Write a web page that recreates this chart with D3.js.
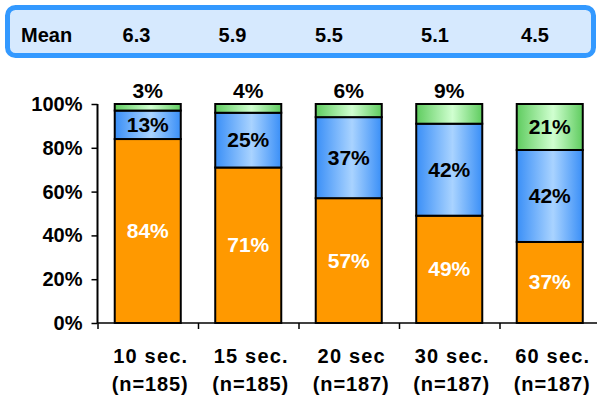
<!DOCTYPE html>
<html>
<head>
<meta charset="utf-8">
<script src="https://cdn.jsdelivr.net/npm/d3@7"></script>
<style>
  html, body { margin: 0; padding: 0; background: #ffffff; }
  svg { display: block; }
  text { font-family: "Liberation Sans", Arial, sans-serif; font-weight: bold; }
</style>
</head>
<body>
<svg id="chart" width="597" height="398"></svg>
<script>
const categories = ["10 sec.", "15 sec.", "20 sec", "30 sec.", "60 sec."];
const sampleSizes = ["(n=185)", "(n=185)", "(n=187)", "(n=187)", "(n=187)"];
const means = ["6.3", "5.9", "5.5", "5.1", "4.5"];
const bottomSeries = [84, 71, 57, 49, 37];
const middleSeries = [13, 25, 37, 42, 42];
const topSeries = [3, 4, 6, 9, 21];
const yTicks = [0, 20, 40, 60, 80, 100];

const svg = d3.select("#chart");
const defs = svg.append("defs");

function hGrad(id, edge, center) {
  const g = defs.append("linearGradient").attr("id", id)
    .attr("x1", "0%").attr("x2", "100%").attr("y1", "0%").attr("y2", "0%");
  g.append("stop").attr("offset", "0%").attr("stop-color", edge);
  g.append("stop").attr("offset", "55%").attr("stop-color", center);
  g.append("stop").attr("offset", "100%").attr("stop-color", edge);
}
hGrad("blueGrad", "#3a8ff7", "#a9d3ff");
hGrad("greenGrad", "#5fcc5f", "#d0ffd0");

// Mean box
svg.append("rect")
  .attr("x", 7.5).attr("y", 7.5).attr("width", 586).attr("height", 48)
  .attr("rx", 8).attr("ry", 8)
  .attr("fill", "#d6e9fe").attr("stroke", "#3399ff").attr("stroke-width", 5);
svg.append("text").attr("x", 21).attr("y", 42)
  .attr("font-size", 20).attr("fill", "#000").text("Mean");
const meanX = [136.5, 232.5, 329, 435, 535];
svg.selectAll("text.mean").data(means).join("text")
  .attr("class", "mean")
  .attr("x", (d, i) => meanX[i]).attr("y", 42)
  .attr("text-anchor", "middle").attr("font-size", 20).attr("fill", "#000")
  .text(d => d);

// Scales
const x = d3.scaleBand().domain(categories).range([97.5, 600]).paddingInner(0.343).paddingOuter(0.1715);
const y = d3.scaleLinear().domain([0, 100]).range([323, 104]);

const stackData = categories.map((c, i) => ({
  cat: c, bottom: bottomSeries[i], middle: middleSeries[i], top: topSeries[i]
}));
const stack = d3.stack().keys(["bottom", "middle", "top"]);
const layers = stack(stackData);
const fills = { bottom: "#ff9900", middle: "url(#blueGrad)", top: "url(#greenGrad)" };

const g = svg.append("g");
layers.forEach(layer => {
  g.selectAll(null).data(layer).join("rect")
    .attr("x", d => x(d.data.cat))
    .attr("width", x.bandwidth())
    .attr("y", d => y(d[1]))
    .attr("height", d => y(d[0]) - y(d[1]))
    .attr("fill", fills[layer.key])
    .attr("stroke", "#000").attr("stroke-width", 2);
});

// Axes
const yAxis = d3.axisLeft(y).tickValues(yTicks).tickFormat(d => d + "%").tickSize(6).tickPadding(9);
const yG = svg.append("g").attr("transform", "translate(97.5,0)").call(yAxis);
yG.select(".domain").attr("stroke", "#000").attr("stroke-width", 2).attr("d", `M0,${y(100)}V${y(0)}`);
yG.selectAll(".tick line").attr("stroke", "#000").attr("stroke-width", 1.5);
yG.selectAll(".tick text").attr("font-size", 20).attr("font-weight", "bold")
  .attr("font-family", '"Liberation Sans", Arial, sans-serif').attr("fill", "#000");

// X axis baseline and separator ticks
svg.append("line").attr("x1", 97.5).attr("x2", 597).attr("y1", y(0)).attr("y2", y(0))
  .attr("stroke", "#000").attr("stroke-width", 1.5);
const step = x.step();
svg.selectAll("line.xt").data(categories).join("line")
  .attr("class", "xt")
  .attr("x1", (d) => x(d) - x.paddingOuter() * step + 0.5)
  .attr("x2", (d) => x(d) - x.paddingOuter() * step + 0.5)
  .attr("y1", y(0)).attr("y2", y(0) + 6)
  .attr("stroke", "#000").attr("stroke-width", 1.5);

// Category labels
svg.selectAll("text.cat").data(categories).join("text")
  .attr("class", "cat")
  .attr("x", d => x(d) + x.bandwidth() / 2 + 3).attr("y", 363)
  .attr("text-anchor", "middle").attr("font-size", 20).attr("letter-spacing", 1.2)
  .attr("fill", "#000").text(d => d);
svg.selectAll("text.n").data(sampleSizes).join("text")
  .attr("class", "n")
  .attr("x", (d, i) => x(categories[i]) + x.bandwidth() / 2 + 2.5).attr("y", 391)
  .attr("text-anchor", "middle").attr("font-size", 20).attr("letter-spacing", 0.9)
  .attr("fill", "#000").text(d => d);

// Value labels
layers.forEach(layer => {
  g.selectAll(null).data(layer).join("text")
    .attr("x", d => x(d.data.cat) + x.bandwidth() / 2)
    .attr("y", d => {
      const v = d[1] - d[0];
      if (layer.key === "top" && v < 10) return y(d[1]) - 6;
      return (y(d[0]) + y(d[1])) / 2 + 7;
    })
    .attr("text-anchor", "middle").attr("font-size", 21)
    .attr("fill", layer.key === "bottom" ? "#fff" : "#000")
    .text(d => (d[1] - d[0]) + "%");
});
</script>
</body>
</html>
